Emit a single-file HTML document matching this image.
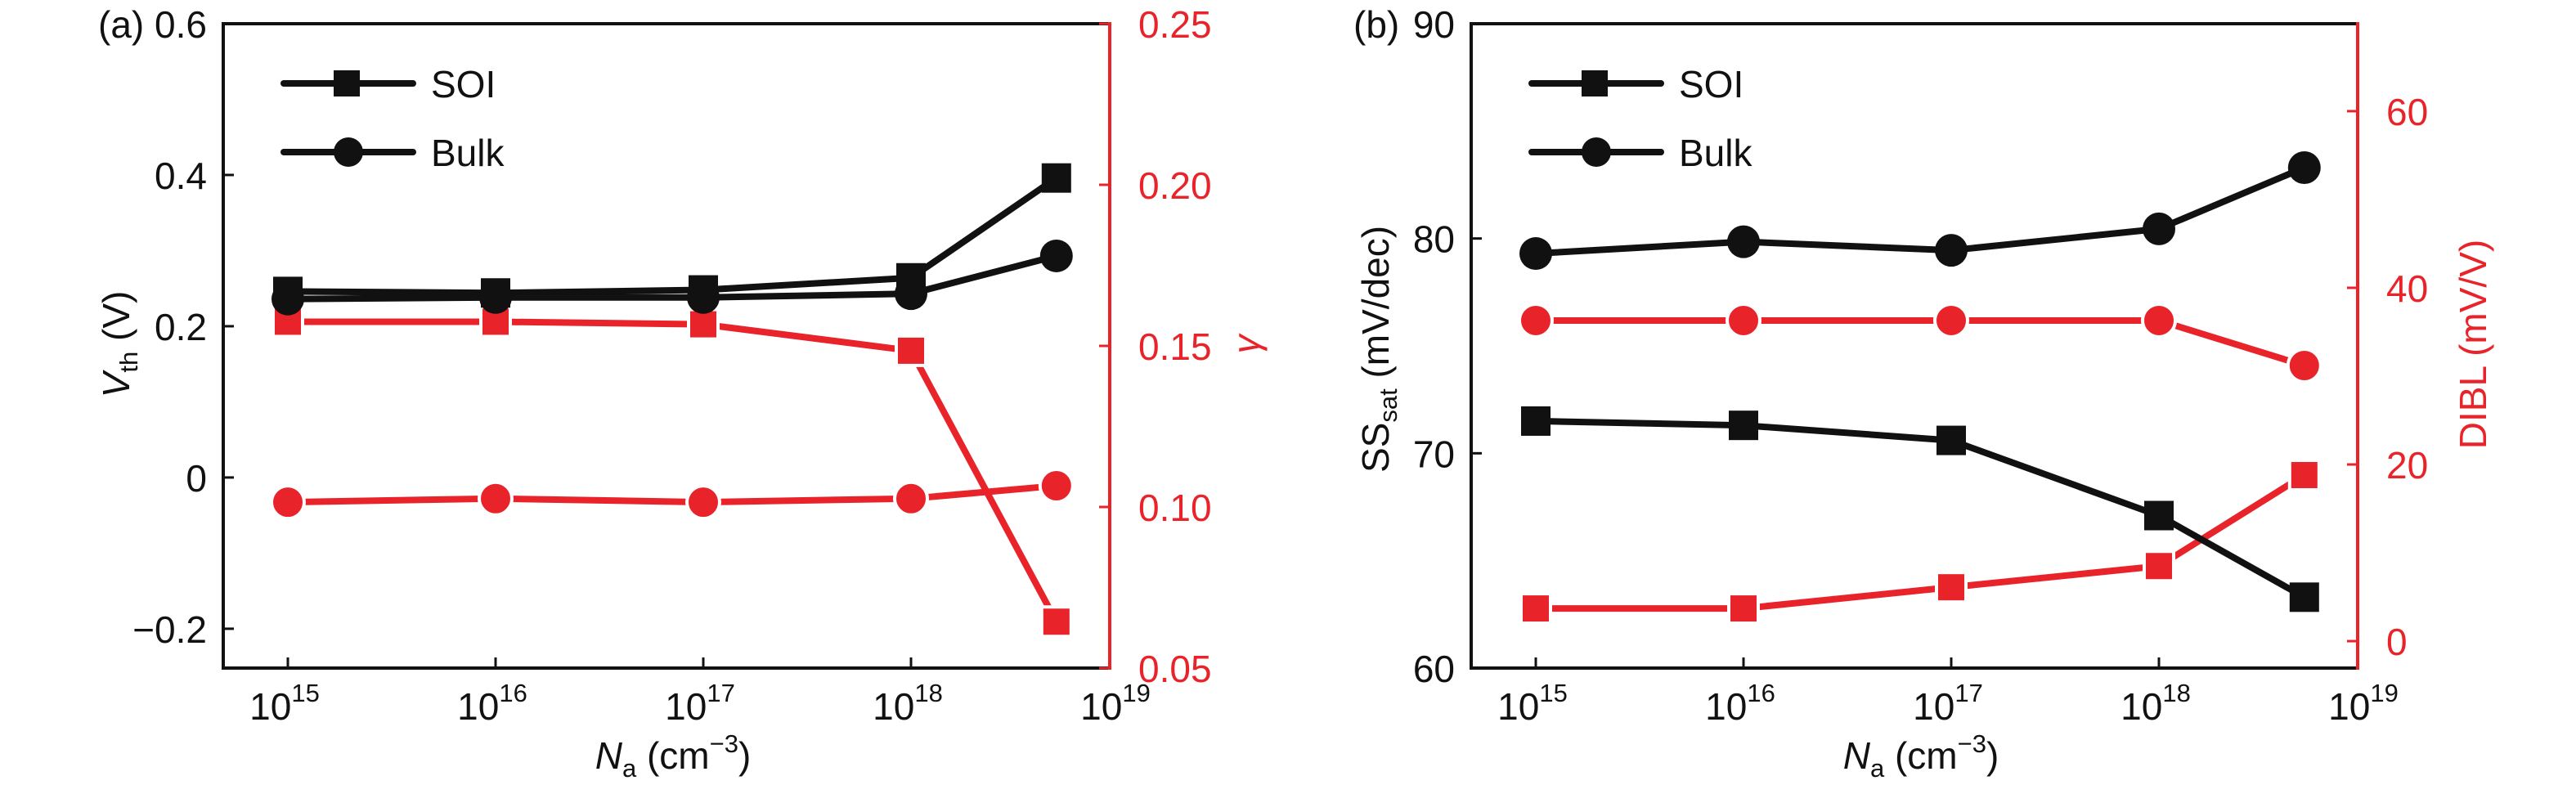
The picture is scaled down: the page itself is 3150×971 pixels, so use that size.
<!DOCTYPE html>
<html><head><meta charset="utf-8"><style>
html,body{margin:0;padding:0;background:#fff}
svg{display:block;font-family:"Liberation Sans",sans-serif}
</style></head><body>
<svg id="fig" width="3150" height="971" viewBox="0 0 3150 971" xmlns="http://www.w3.org/2000/svg"></svg>
<script>
// Shared x categories (log10 of Na)
const naLog = [15, 16, 17, 18, 18.7];
const xTickLabels = ["15", "16", "17", "18", "19"];
// Panel (a)
const vthSOI = [0.246, 0.244, 0.248, 0.264, 0.396];
const vthBulk = [0.236, 0.238, 0.238, 0.243, 0.293];
const gammaSOI = [0.1575, 0.1575, 0.1567, 0.1485, 0.0644];
const gammaBulk = [0.1015, 0.1026, 0.1015, 0.1026, 0.1066];
const aLeftTicks = [-0.2, 0, 0.2, 0.4, 0.6];
const aLeftLabels = ["\u22120.2", "0", "0.2", "0.4", "0.6"];
const aRightTicks = [0.05, 0.10, 0.15, 0.20, 0.25];
const aRightLabels = ["0.05", "0.10", "0.15", "0.20", "0.25"];
// Panel (b)
const ssBulk = [79.3, 79.85, 79.45, 80.45, 83.3];
const ssSOI = [71.5, 71.3, 70.6, 67.1, 63.3];
const diblBulk = [36.3, 36.3, 36.3, 36.3, 31.2];
const diblSOI = [3.7, 3.7, 6.1, 8.5, 18.8];
const bLeftTicks = [60, 70, 80, 90];
const bLeftLabels = ["60", "70", "80", "90"];
const bRightTicks = [0, 20, 40, 60];
const bRightLabels = ["0", "20", "40", "60"];

const NS = "http://www.w3.org/2000/svg";
const svg = document.getElementById('fig');
const RED = "#e8242a", BLK = "#111";
function mk(tag, attrs, parent) {
  const e = document.createElementNS(NS, tag);
  for (const k in attrs) e.setAttribute(k, attrs[k]);
  (parent || svg).appendChild(e);
  return e;
}
function txt(parent, x, y, s, size, fill, anchor) {
  const t = mk('text', {x: x, y: y, 'font-size': size, fill: fill, 'text-anchor': anchor || 'middle'}, parent);
  t.textContent = s;
  return t;
}

function panel(cfg) {
  const g = mk('g', {});
  
  
  const L = cfg.L, R = cfg.L + 1084, T = 29, B = 817;
  const xs = v => L + 79 + (v - 15) * 254;
  const yl = v => B - (v - cfg.lmin) / (cfg.lmax - cfg.lmin) * (B - T);
  const yr = v => B - (v - cfg.rmin) / (cfg.rmax - cfg.rmin) * (B - T);

  // axes
  const ax = mk('g', {}, g);
  
  
  mk('line', {x1: L, y1: T, x2: R, y2: T, stroke: BLK, 'stroke-width': 4}, ax);
  mk('line', {x1: L, y1: T - 2, x2: L, y2: B + 2, stroke: BLK, 'stroke-width': 4}, ax);
  mk('line', {x1: L, y1: B, x2: R, y2: B, stroke: BLK, 'stroke-width': 4}, ax);
  mk('line', {x1: R, y1: T - 2, x2: R, y2: B + 2, stroke: RED, 'stroke-width': 4}, ax);

  // x ticks
  const xt = mk('g', {}, g);
  
  
  xTickLabels.forEach((lab, i) => {
    const v = 15 + i;
    const x = xs(v);
    if (x < R - 5) mk('line', {x1: x, y1: B, x2: x, y2: B - 13, stroke: BLK, 'stroke-width': 3}, xt);
    const t = mk('text', {x: x - 4, y: 880, 'font-size': 46, fill: BLK, 'text-anchor': 'middle'}, xt);
    t.textContent = "10";
    const sp = mk('tspan', {dy: -22, 'font-size': 31}, t);
    sp.textContent = lab;
  });
  // left ticks
  const lt = mk('g', {}, g);
  
  
  cfg.lt.forEach((v, i) => {
    const y = yl(v);
    mk('line', {x1: L, y1: y, x2: L + 13, y2: y, stroke: BLK, 'stroke-width': 3}, lt);
    txt(lt, L - 20, y + 17, cfg.ll[i], 46, BLK, 'end');
  });
  // right ticks
  const rt = mk('g', {}, g);
  
  
  cfg.rt.forEach((v, i) => {
    const y = yr(v);
    mk('line', {x1: R, y1: y, x2: R - 13, y2: y, stroke: RED, 'stroke-width': 3}, rt);
    txt(rt, R + 35, y + 17, cfg.rl[i], 46, RED, 'start');
  });

  function series(vals, yf, color, marker, name) {
    const sg = mk('g', {}, g);
    
    
    const pts = vals.map((v, i) => [xs(naLog[i]), yf(v)]);
    mk('polyline', {points: pts.map(p => p.join(',')).join(' '), fill: 'none', stroke: color, 'stroke-width': 8, 'stroke-linejoin': 'round', 'stroke-linecap': 'round'}, sg);
    pts.forEach(p => {
      let m;
      if (marker === 'sq') m = mk('rect', {x: p[0] - 18, y: p[1] - 18, width: 36, height: 36, fill: color}, sg);
      else m = mk('circle', {cx: p[0], cy: p[1], r: 20, fill: color}, sg);
      if (color === RED) { m.setAttribute('stroke', '#fff'); m.setAttribute('stroke-width', 4); }
      
      
    });
  }
  series(cfg.redSq, yr, RED, 'sq', 'red-square-series');
  series(cfg.redCi, yr, RED, 'ci', 'red-circle-series');
  series(cfg.blkSq, yl, BLK, 'sq', 'soi-series');
  series(cfg.blkCi, yl, BLK, 'ci', 'bulk-series');

  // legend
  const lg = mk('g', {}, g);
  
  
  const lx = L + 74;
  [[102, 'sq', 'SOI'], [186, 'ci', 'Bulk']].forEach(e => {
    const y = e[0];
    mk('line', {x1: lx, y1: y, x2: lx + 158, y2: y, stroke: BLK, 'stroke-width': 8, 'stroke-linecap': 'round'}, lg);
    if (e[1] === 'sq') mk('rect', {x: lx + 61, y: y - 16, width: 32, height: 32, fill: BLK}, lg);
    else mk('circle', {cx: lx + 79, cy: y, r: 18, fill: BLK}, lg);
    txt(lg, lx + 180, y + 17, e[2], 46, BLK, 'start');
  });

  // panel label
  txt(g, cfg.labX, 46, cfg.label, 46, BLK, 'start');
  // x title
  const xtitle = mk('text', {x: cfg.L + 550, y: 940, 'font-size': 46, fill: BLK, 'text-anchor': 'middle'}, g);
  
  
  xtitle.innerHTML = '<tspan font-style="italic">N</tspan><tspan font-size="31" dy="10">a</tspan><tspan dy="-10"> (cm</tspan><tspan font-size="31" dy="-20">\u22123</tspan><tspan dy="20">)</tspan>';
  // left y title
  const ylt = mk('text', {x: 0, y: 0, 'font-size': 46, fill: BLK, 'text-anchor': 'middle', transform: 'translate(' + cfg.ltX + ',' + cfg.ltY + ') rotate(-90)'}, g);
  
  
  ylt.innerHTML = cfg.ltHTML;
  const yrt = mk('text', {x: 0, y: 0, 'font-size': 46, fill: RED, 'text-anchor': 'middle', transform: 'translate(' + cfg.rtX + ',' + cfg.rtY + ') rotate(-90)'}, g);
  
  
  yrt.innerHTML = cfg.rtHTML;
}

panel({name: 'panel-a', L: 273, lmin: -0.252, lmax: 0.6, rmin: 0.05, rmax: 0.25,
  lt: aLeftTicks, ll: aLeftLabels, rt: aRightTicks, rl: aRightLabels,
  blkSq: vthSOI, blkCi: vthBulk, redSq: gammaSOI, redCi: gammaBulk,
  label: '(a)', labX: 120, ltX: 158, ltY: 421, rtX: 1540, rtY: 421,
  ltHTML: '<tspan font-style="italic">V</tspan><tspan font-size="31" dy="10">th</tspan><tspan dy="-10"> (V)</tspan>',
  rtHTML: '<tspan font-style="italic">\u03b3</tspan>'});
panel({name: 'panel-b', L: 1799, lmin: 60, lmax: 90, rmin: -3.05, rmax: 69.9,
  lt: bLeftTicks, ll: bLeftLabels, rt: bRightTicks, rl: bRightLabels,
  blkSq: ssSOI, blkCi: ssBulk, redSq: diblSOI, redCi: diblBulk,
  label: '(b)', labX: 1655, ltX: 1698, ltY: 427, rtX: 3040, rtY: 421,
  ltHTML: 'SS<tspan font-size="31" dy="10">sat</tspan><tspan dy="-10"> (mV/dec)</tspan>',
  rtHTML: 'DIBL (mV/V)'});
</script>
</body></html>
